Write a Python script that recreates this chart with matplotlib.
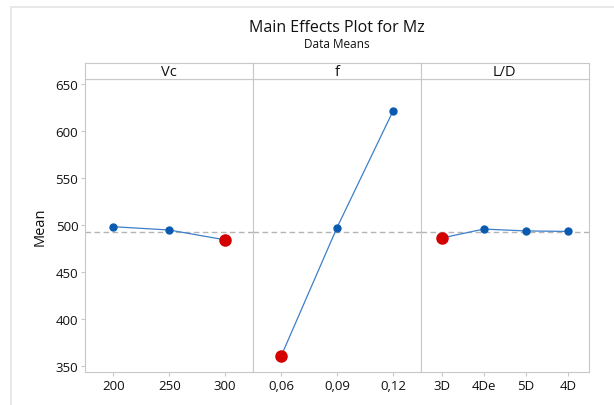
import matplotlib.pyplot as plt
from matplotlib.lines import Line2D

plt.rcParams['font.family'] = ['Open Sans', 'DejaVu Sans']

# niveles y medias de cada factor
factores = ["Vc", "f", "L/D"]
niveles_vc = ["200", "250", "300"]
medias_vc = [498.0, 494.5, 484.0]
niveles_f = ["0,06", "0,09", "0,12"]
medias_f = [360.0, 497.0, 621.0]
niveles_ld = ["3D", "4De", "5D", "4D"]
medias_ld = [486.0, 495.5, 493.5, 493.0]
media_total = 492.0
y_ticks = [350, 400, 450, 500, 550, 600, 650]

datos = [(niveles_vc, medias_vc), (niveles_f, medias_f), (niveles_ld, medias_ld)]

W, H = 614, 406
fig = plt.figure(figsize=(W / 100, H / 100), dpi=100)

# marco gris de la ventana (solo borde izquierdo y superior)
fig.lines.append(Line2D([11 / W, 11 / W, 1.0], [0.0, 1 - 8 / H, 1 - 8 / H],
                        transform=fig.transFigure, color="#e4e4e4", linewidth=1.2))

gris = "#c8c8c8"
texto = "#111111"
x0, x1 = 85.3 / W, 588.7 / W
y0, y1 = 1 - 372.7 / H, 1 - 80 / H
yh = 1 - 64.3 / H
ancho = (x1 - x0) / 3

for i, (niveles, medias) in enumerate(datos):
    ax = fig.add_axes([x0 + i * ancho, y0, ancho, y1 - y0])
    xs = list(range(len(niveles)))
    ax.plot(xs, medias, color="#3d7fc9", linewidth=0.9, zorder=2)
    imin = medias.index(min(medias))
    for k, (x, m) in enumerate(zip(xs, medias)):
        if k == imin:
            ax.plot(x, m, "o", color="#d40000", markersize=8, zorder=3)
        else:
            ax.plot(x, m, "o", color="#0a5bb0", markersize=5, zorder=3)
    ax.axhline(media_total, color="#b4b4b4", linestyle=(0, (4, 2.5)), linewidth=1, zorder=1)
    ax.set_xlim(-0.5, len(niveles) - 0.5)
    ax.set_ylim(343.6, 655.3)
    ax.set_xticks(xs)
    ax.set_xticklabels(niveles, fontsize=9.5, color=texto)
    ax.set_yticks(y_ticks)
    for s in ax.spines.values():
        s.set_color(gris)
    ax.tick_params(colors=gris, length=3, labelcolor=texto, pad=2)
    if i > 0:
        ax.tick_params(axis="y", left=False, labelleft=False)
    else:
        ax.set_yticklabels([str(v) for v in y_ticks], fontsize=9.5)
        ax.set_ylabel("Mean", fontsize=10.5, color=texto, labelpad=6)

    # encabezado del panel
    hx = fig.add_axes([x0 + i * ancho, y1, ancho, yh - y1])
    hx.set_xticks([])
    hx.set_yticks([])
    for s in hx.spines.values():
        s.set_color(gris)
    hx.text(0.5, 0.45, factores[i], ha="center", va="center", fontsize=10.5, color=texto,
            transform=hx.transAxes)

fig.text(0.5 * (x0 + x1), 1 - 28 / H, "Main Effects Plot for Mz", ha="center", va="center",
         fontsize=11.5, color=texto)
fig.text(0.5 * (x0 + x1), 1 - 45 / H, "Data Means", ha="center", va="center",
         fontsize=8.5, color=texto)

fig.savefig("out.png", dpi=100)
